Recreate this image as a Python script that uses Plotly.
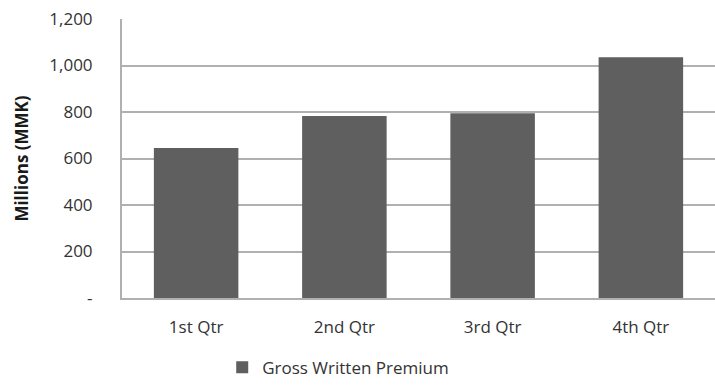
import plotly.graph_objects as go

categories = ["1st Qtr", "2nd Qtr", "3rd Qtr", "4th Qtr"]
premium = [645, 783, 795, 1035]
series_name = "Gross Written Premium"
tick_vals = [0, 200, 400, 600, 800, 1000, 1200]
tick_text = ["-", "200", "400", "600", "800", "1,000", "1,200"]

FONT = "'Open Sans', sans-serif"

fig = go.Figure()
fig.add_trace(go.Bar(
    x=categories, y=premium, name=series_name,
    marker=dict(color="#5f5f5f", line=dict(width=0)),
    showlegend=True,
))

fig.update_layout(
    width=715, height=386,
    margin=dict(l=122, r=0, t=19, b=86),
    paper_bgcolor="white", plot_bgcolor="white",
    bargap=0.43,
    font=dict(family=FONT, color="#333333", size=17),
    showlegend=True,
    legend=dict(orientation="h", x=0.169, xanchor="left", y=-0.25, yanchor="middle",
                font=dict(size=17, color="#333333"), itemwidth=30),
    xaxis=dict(showline=True, linecolor="#b0b0b0", linewidth=2, ticks="",
               ticklabelstandoff=13,
               tickfont=dict(size=17, color="#333333"), showgrid=False),
    yaxis=dict(range=[0, 1200], tickvals=tick_vals, ticktext=tick_text,
               showline=True, linecolor="#b0b0b0", linewidth=2,
               gridcolor="#b0b0b0", gridwidth=1.5, ticks="",
               ticklabelstandoff=24, zeroline=False,
               tickfont=dict(size=17, color="#333333"),
               title=dict(text="<b>Millions (MMK)</b>", font=dict(size=17, color="#1a1a1a"), standoff=16)),
)

fig.write_html("out.html")
